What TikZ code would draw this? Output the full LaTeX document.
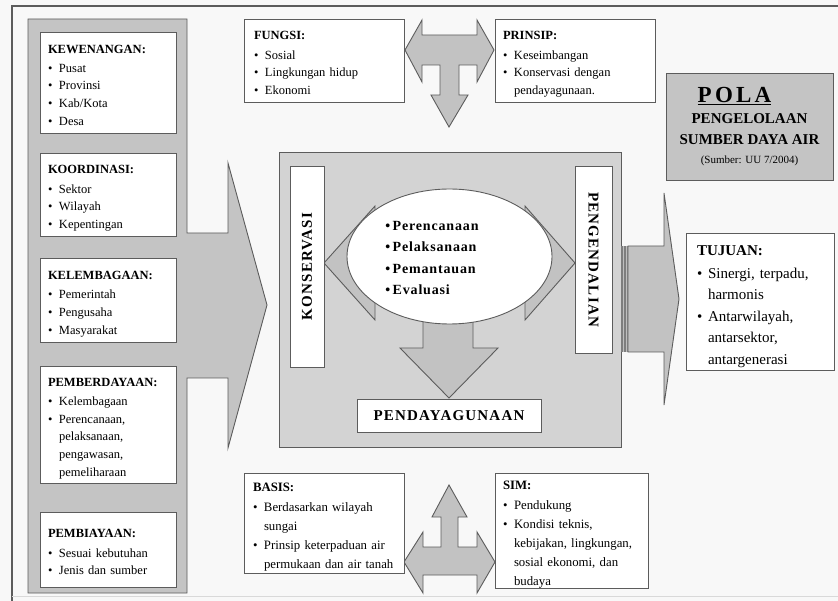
\documentclass[tikz,border=0pt]{standalone}
\usepackage{fontspec}
\setmainfont{Liberation Serif}
\usetikzlibrary{shapes.geometric}

\definecolor{frameline}{HTML}{5C5C5C}
\definecolor{panelgray}{HTML}{C4C4C4}
\definecolor{coregray}{HTML}{D3D3D3}
\definecolor{arrowgray}{HTML}{C2C2C2}
\definecolor{stripegray}{HTML}{7E7E7E}
\definecolor{paper}{HTML}{F8F8F8}

% list helpers: bold heading and bullet item whose wrapped lines align with its text;
% \prevdepth is reset so the next item keeps the regular baseline distance.
% The tall heading strut and the closing kern move a list a little lower in its box.
\newcommand\lhead[1]{\noindent\vrule height 1em depth 0pt width 0pt\textbf{#1}\par\vspace{1.5pt}}
\newcommand\litem[2][11pt]{\par\noindent\makebox[#1][l]{\textbullet}%
  \parbox[t]{\dimexpr\linewidth-#1\relax}{\raggedright #2\vrule height 0pt depth 3pt width 0pt}%
  \par\prevdepth=3pt}
\newcommand\lend{\par\kern-0.32em}

\tikzset{
  x=1pt, y=-1pt,
  outline/.style={draw=frameline, line width=0.9pt},
  listbox/.style={outline, fill=white, align=left, inner xsep=8pt, inner ysep=0pt},
  sidefont/.style={font=\fontsize{12.5}{17.7}\selectfont},
  bigarrow/.style={outline, fill=arrowgray, line join=miter},
  panel/.style={outline, fill=panelgray},
  labelbox/.style={outline, fill=white, inner sep=0pt,
    font=\fontsize{15}{18}\selectfont\bfseries\addfontfeatures{LetterSpace=8}},
}

\begin{document}
\begin{tikzpicture}
\useasboundingbox (0,0) rectangle (838,601);
\fill[paper] (0,0) rectangle (838,601);

% outer frame
\draw[frameline, line width=1.6pt] (12,601) -- (12,6) -- (838,6);
\draw[black!15, line width=0.8pt] (12,596) -- (838,596);

% left column with its arrow toward the core
\draw[panel] (28,19) -- (187,19) -- (187,233) -- (228,233) -- (228,163)
  -- (267,305) -- (228,448) -- (228,378) -- (187,378) -- (187,593)
  -- (28,593) -- cycle;

\node[listbox, sidefont, minimum width=136pt, minimum height=101pt, text width=120pt]
  (kewenangan) at (108,82.5)
  {\lhead{KEWENANGAN:}\litem{Pusat}\litem{Provinsi}\litem{Kab/Kota}\litem{Desa}\lend};
\node[listbox, sidefont, minimum width=136pt, minimum height=83pt, text width=120pt]
  (koordinasi) at (108,194.5)
  {\lhead{KOORDINASI:}\litem{Sektor}\litem{Wilayah}\litem{Kepentingan}\lend};
\node[listbox, sidefont, minimum width=136pt, minimum height=84pt, text width=120pt]
  (kelembagaan) at (108,300)
  {\lhead{KELEMBAGAAN:}\litem{Pemerintah}\litem{Pengusaha}\litem{Masyarakat}\lend};
\node[listbox, sidefont, minimum width=136pt, minimum height=117pt, text width=120pt]
  (pemberdayaan) at (108,424.5)
  {\lhead{PEMBERDAYAAN:}\litem{Kelembagaan}\litem{Perencanaan,\\ pelaksanaan,\\ pengawasan,\\ pemeliharaan}\lend};
\node[listbox, sidefont, minimum width=136pt, minimum height=75pt, text width=120pt]
  (pembiayaan) at (108,549.5)
  {\lhead{PEMBIAYAAN:}\litem{Sesuai kebutuhan}\litem{Jenis dan sumber}\lend};

% top boxes and their T-shaped arrow
\draw[bigarrow] (405,50) -- (422,20) -- (422,35) -- (477,35) -- (477,20)
  -- (494,50) -- (477,82) -- (477,65) -- (459,65) -- (459,95) -- (468,95)
  -- (449,127) -- (431,95) -- (440,95) -- (440,65) -- (422,65) -- (422,82) -- cycle;
\node[listbox, sidefont, inner xsep=10pt, minimum width=160pt, minimum height=83pt, text width=140pt]
  (fungsi) at (324,60.5)
  {\lhead{FUNGSI:}\litem{Sosial}\litem{Lingkungan hidup}\litem{Ekonomi}\lend};
\node[listbox, sidefont, minimum width=160pt, minimum height=83pt, text width=144pt]
  (prinsip) at (575,60.5)
  {\lhead{PRINSIP:}\litem{Keseimbangan}\litem{Konservasi dengan\\ pendayagunaan.}\lend};

% title
\node[panel, minimum width=167pt, minimum height=107pt, align=center, inner sep=0pt,
  font=\fontsize{15}{21}\selectfont\bfseries] (title) at (749.5,126.5)
  {{\fontsize{23}{21}\selectfont\addfontfeatures{LetterSpace=14}\underline{POLA}\hspace*{30pt}}\\
   PENGELOLAAN\\
   SUMBER DAYA AIR\\[-2pt]
   {\fontsize{11}{19}\selectfont\mdseries (Sumber: UU 7/2004)}};

% core panel
\node[outline, fill=coregray, minimum width=342pt, minimum height=295pt, inner sep=0pt]
  (core) at (450,299.5) {};

% arrows around the process ellipse
\draw[bigarrow] (324,263) -- (375,206) -- (375,240) -- (420,240) -- (420,286)
  -- (375,286) -- (375,320) -- cycle;
\draw[bigarrow] (575,263) -- (525,206) -- (525,240) -- (480,240) -- (480,286)
  -- (525,286) -- (525,320) -- cycle;
\draw[bigarrow] (423,290) -- (473,290) -- (473,348) -- (498,348) -- (449,398)
  -- (400,348) -- (423,348) -- cycle;

\node[ellipse, outline, fill=white, minimum width=205pt, minimum height=135pt, inner sep=0pt]
  (process) at (449.5,256.5) {};
\node[align=left, inner sep=0pt,
  font=\fontsize{14}{21.5}\selectfont\bfseries\addfontfeatures{LetterSpace=6}]
  (steps) at (432,258)
  {\textbullet\,Perencanaan\\ \textbullet\,Pelaksanaan\\ \textbullet\,Pemantauan\\ \textbullet\,Evaluasi};

\node[labelbox, rotate=90, minimum width=201pt, minimum height=34pt]
  (konservasi) at (307,266.5) {KONSERVASI};
\node[labelbox, rotate=-90, minimum width=187pt, minimum height=37pt]
  (pengendalian) at (593.5,259.5) {PENGENDALIAN};
\node[labelbox, minimum width=184pt, minimum height=33pt]
  (pendayagunaan) at (449,415.5) {PENDAYAGUNAAN};

% arrow from the core to the goals
\draw[bigarrow] (628,246) -- (664,246) -- (664,193) -- (679,299) -- (664,405)
  -- (664,352) -- (628,352) -- cycle;
\fill[stripegray] (621,246) rectangle (628,352);
\draw[white!75!black, line width=0.8pt] (623.5,246) -- (623.5,352) (626,246) -- (626,352);

\node[listbox, inner xsep=11pt, minimum width=148pt, minimum height=137pt, text width=126pt,
  font=\fontsize{15}{21.5}\selectfont] (tujuan) at (760,301.5)
  {\lhead{TUJUAN:}\litem{Sinergi, terpadu,\\ harmonis}\litem{Antarwilayah,\\ antarsektor,\\ antargenerasi}\lend};

% bottom boxes and their T-shaped arrow
\draw[bigarrow] (404,562) -- (423,532) -- (423,547) -- (441,547) -- (441,517)
  -- (432,517) -- (449,485) -- (467,517) -- (458,517) -- (458,547) -- (477,547)
  -- (477,532) -- (495,562) -- (477,593) -- (477,575) -- (423,575) -- (423,593) -- cycle;
\node[listbox, inner xsep=9pt, minimum width=160pt, minimum height=100pt, text width=142pt,
  font=\fontsize{12.8}{19}\selectfont] (basis) at (324,523)
  {\lhead{BASIS:}\litem{Berdasarkan wilayah\\ sungai}\litem{Prinsip keterpaduan air\\ permukaan dan air tanah}\lend};
\node[listbox, minimum width=153pt, minimum height=115pt, text width=137pt,
  font=\fontsize{12.8}{19}\selectfont] (sim) at (571.5,530.5)
  {\lhead{SIM:}\litem{Pendukung}\litem{Kondisi teknis,\\ kebijakan, lingkungan,\\ sosial ekonomi, dan\\ budaya}\lend};
\end{tikzpicture}
\end{document}
